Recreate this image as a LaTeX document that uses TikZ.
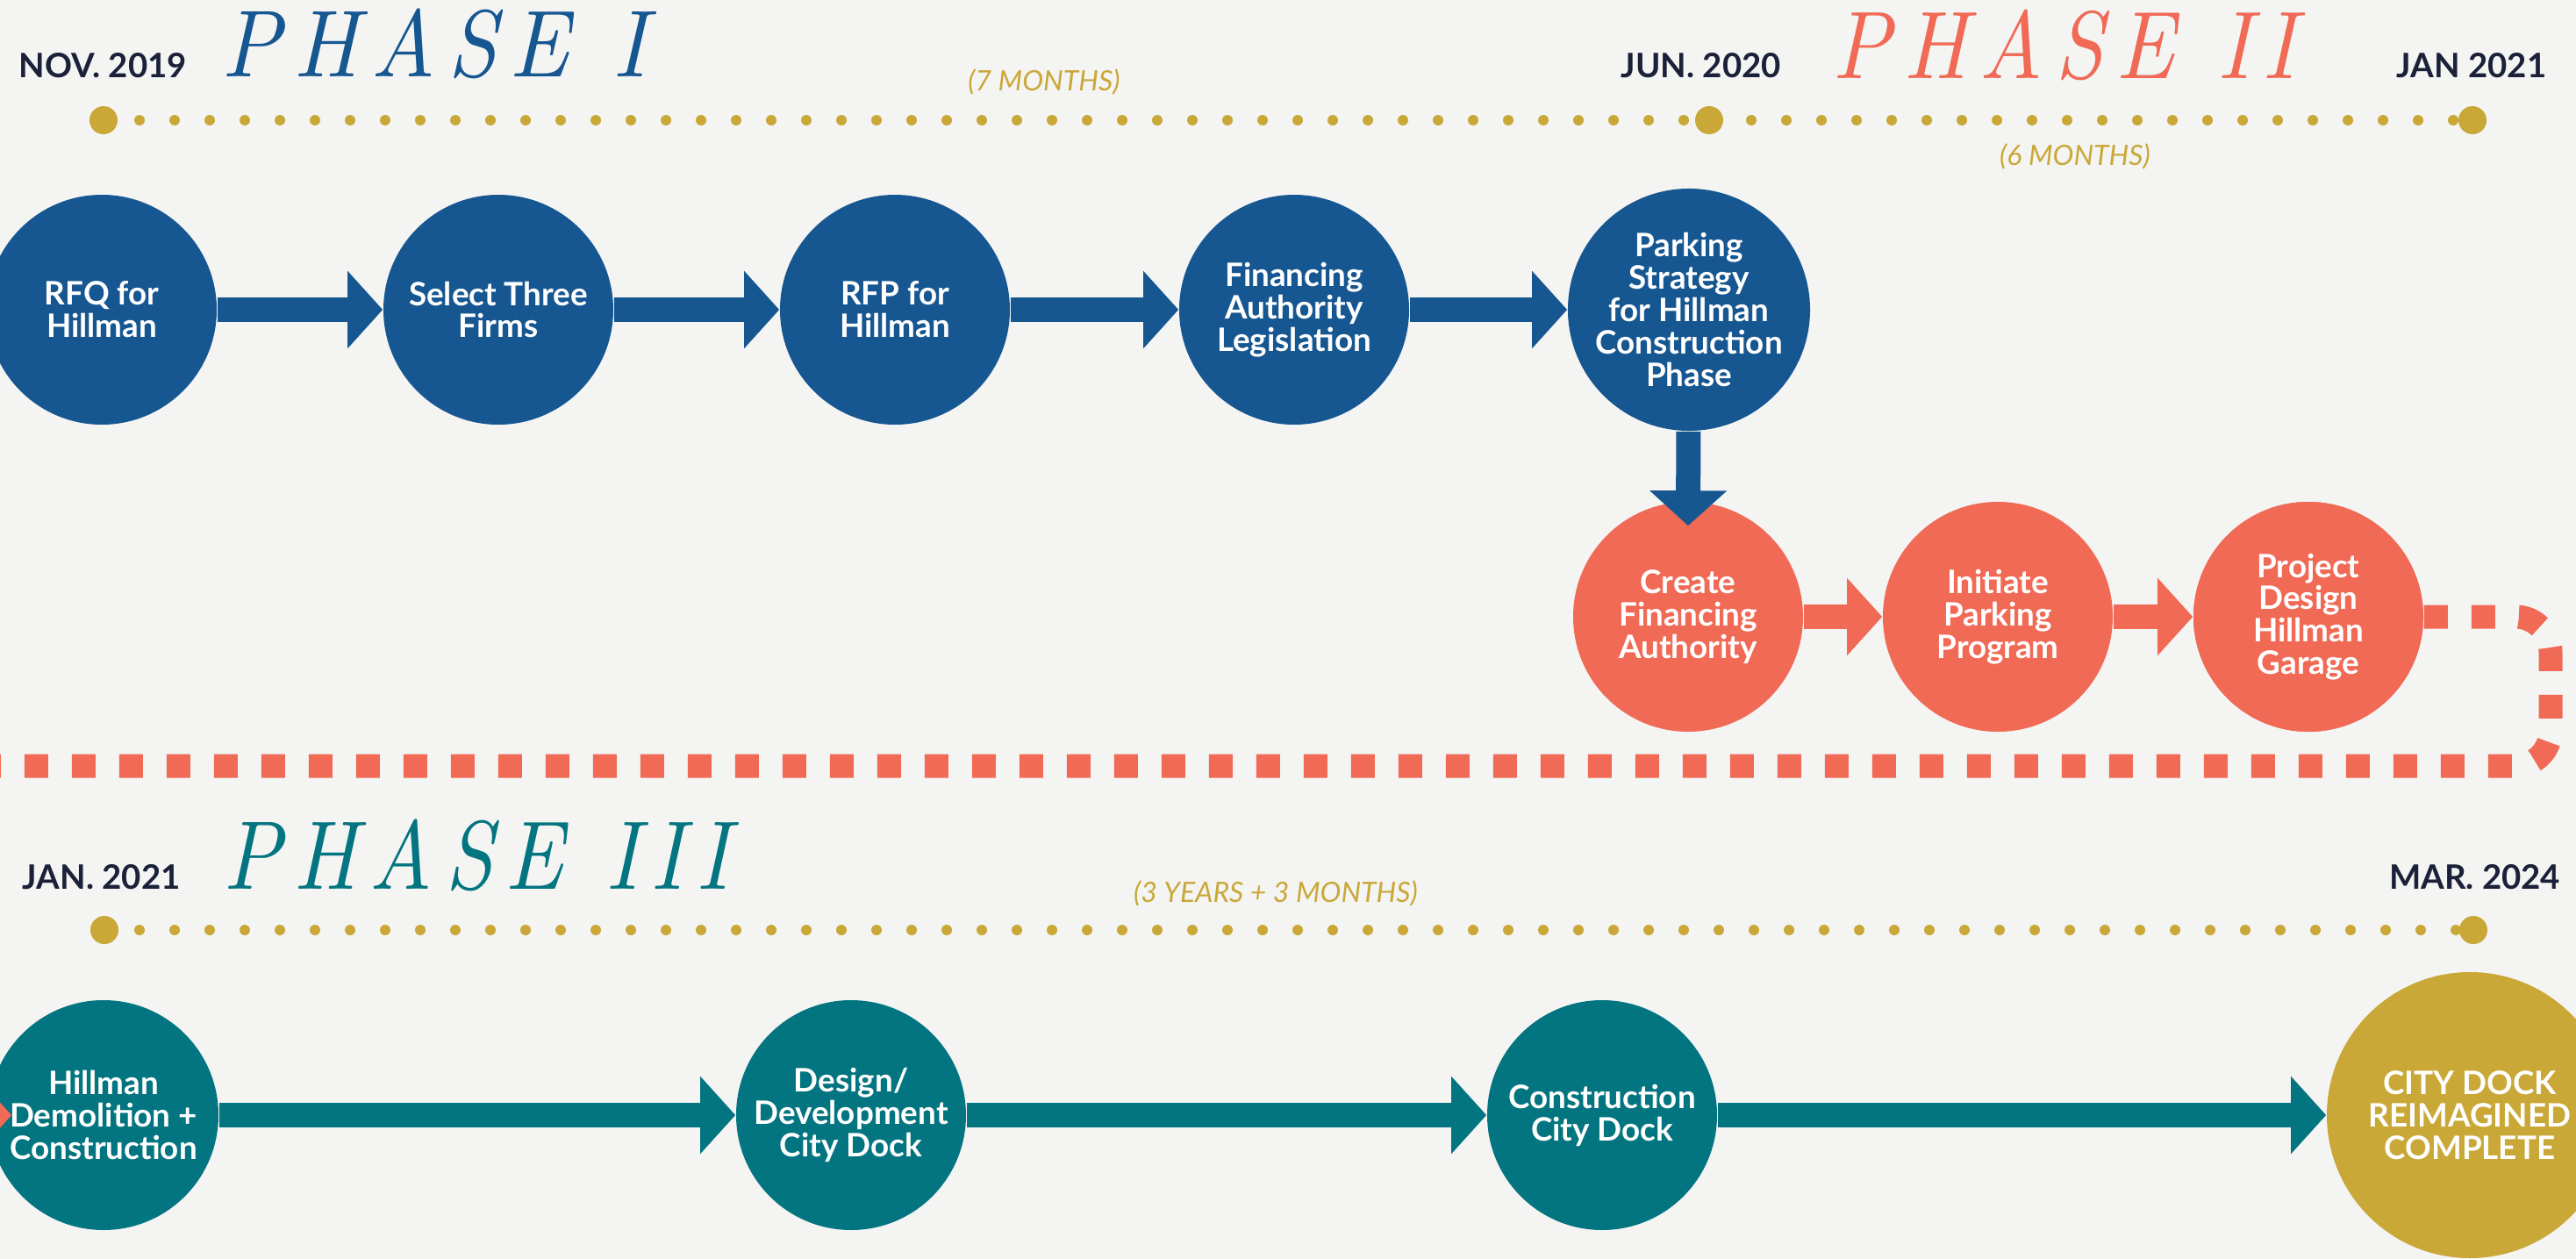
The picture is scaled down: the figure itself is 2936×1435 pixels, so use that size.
\documentclass[tikz,border=0pt]{standalone}
\usepackage{fontspec}
\newfontfamily\lato{Lato}
\newfontfamily\ttl{Latin Modern Roman}[LetterSpace=14]
\usetikzlibrary{arrows.meta,calc}
\definecolor{cblue}{RGB}{23,87,145}
\definecolor{corange}{RGB}{240,106,85}
\definecolor{cteal}{RGB}{3,117,128}
\definecolor{cgold}{RGB}{201,168,56}
\definecolor{cnavy}{RGB}{26,33,56}
\definecolor{cbg}{RGB}{244,244,243}
\begin{document}
\begin{tikzpicture}[x=0.25pt,y=-0.25pt,
  stepcircle/.style={circle, minimum size=65.5pt, inner sep=0pt, text=white, align=center,
    font={\lato\bfseries\fontsize{9.2pt}{9.2pt}\selectfont}},
  flowarrow/.style={line width=7pt, -{Triangle[length=10pt,width=21.5pt]}},
  datelabel/.style={inner sep=0pt, text=cnavy, font={\lato\bfseries\fontsize{9.6pt}{11pt}\selectfont}},
  durlabel/.style={inner sep=0pt, text=cgold, font={\lato\itshape\fontsize{8pt}{10pt}\selectfont}},
  phasetitle/.style={inner sep=0pt, anchor=base west},
  bigdot/.style={circle, fill=cgold, minimum size=8pt, inner sep=0pt},
  smalldot/.style={cgold},
  dashline/.style={draw=corange, line width=6.75pt, dash pattern=on 6.75pt off 6.75pt, rounded corners=10pt}
]
\useasboundingbox (0,0) rectangle (2936,1435);
\fill[cbg] (0,0) rectangle (2936,1435);

% ---------- timelines ----------
\foreach \x in {159,199,...,1919} \fill[smalldot] (\x,137) circle[radius=1.5pt];
\foreach \x in {1996,2036,...,2796} \fill[smalldot] (\x,137) circle[radius=1.5pt];
\foreach \x in {159,199,...,2799} \fill[smalldot] (\x,1060) circle[radius=1.5pt];
\node[bigdot] (d1) at (118,137) {};
\node[bigdot] (d2) at (1948,137) {};
\node[bigdot] (d3) at (2818,137) {};
\node[bigdot] (d4) at (119,1060) {};
\node[bigdot] (d5) at (2819,1060) {};

% ---------- labels ----------
\node[datelabel, anchor=base west] (nov) at (21,88) {NOV. 2019};
\node[datelabel, anchor=base west] (jun) at (1847,88) {JUN. 2020};
\node[datelabel, anchor=base east] (jan1) at (2903,88) {JAN 2021};
\node[datelabel, anchor=base west] (jan2) at (25,1013) {JAN. 2021};
\node[datelabel, anchor=base east] (mar) at (2919,1013) {MAR. 2024};

\node[phasetitle, text=cblue] (p1) at (252,88) {\resizebox{121pt}{19.4pt}{\ttl\itshape PHASE I}};
\node[phasetitle, text=corange] (p2) at (2088,89) {\resizebox{132pt}{19.6pt}{\ttl\itshape PHASE II}};
\node[phasetitle, text=cteal] (p3) at (254,1013) {\resizebox{144pt}{19.9pt}{\ttl\itshape PHASE III}};

\node[durlabel] (m7) at (1190,93) {(7 MONTHS)};
\node[durlabel] (m6) at (2365,178) {(6 MONTHS)};
\node[durlabel] (m39) at (1454,1018) {(3 YEARS + 3 MONTHS)};

% ---------- dashed connector (behind) ----------
\node[stepcircle, fill=corange] (pd) at (2631,703) {Project\\Design\\Hillman\\Garage};
\draw[dashline] (pd.east) -- (2907,703) -- (2907,873) -- (-40,873);

% ---------- phase I ----------
\node[stepcircle, fill=cblue] (rfq) at (116,353) {RFQ for\\Hillman};
\node[stepcircle, fill=cblue] (sel) at (568,353) {Select Three\\Firms};
\node[stepcircle, fill=cblue] (rfp) at (1020,353) {RFP for\\Hillman};
\node[stepcircle, fill=cblue] (fal) at (1475,353) {Financing\\Authority\\Legislation};
\node[stepcircle, fill=cblue] (ps) at (1925,353) {Parking\\Strategy\\for Hillman\\Construction\\Phase};

% ---------- phase II ----------
\node[stepcircle, fill=corange] (cfa) at (1924,703) {Create\\Financing\\Authority};
\node[stepcircle, fill=corange] (ipp) at (2277,703) {Initiate\\Parking\\Program};
\node[stepcircle, fill=corange] (pd2) at (2631,703) {Project\\Design\\Hillman\\Garage};

% ---------- phase III ----------
\node[stepcircle, fill=cteal] (hdc) at (118,1271) {Hillman\\Demolition +\\Construction};
\node[stepcircle, fill=cteal] (ddc) at (970,1271) {Design/\\Development\\City Dock};
\node[stepcircle, fill=cteal] (ccd) at (1826,1271) {Construction\\City Dock};
\node[stepcircle, fill=cgold, minimum size=81.5pt] (cdr) at (2815,1271) {CITY DOCK\\REIMAGINED\\COMPLETE};

% ---------- connectors ----------
\draw[flowarrow, cblue] (rfq) -- (sel);
\draw[flowarrow, cblue] (sel) -- (rfp);
\draw[flowarrow, cblue] (rfp) -- (fal);
\draw[flowarrow, cblue] (fal) -- (ps);
\draw[flowarrow, cblue] (ps) -- ([yshift=-7pt]cfa.north);
\draw[flowarrow, corange] (cfa) -- (ipp);
\draw[flowarrow, corange] (ipp) -- (pd2);
\coordinate (inleft) at (-200,1271);
\draw[flowarrow, corange] (inleft) -- ([xshift=6.75pt]hdc.west);
\draw[flowarrow, cteal] (hdc) -- (ddc);
\draw[flowarrow, cteal] (ddc) -- (ccd);
\draw[flowarrow, cteal] (ccd) -- (cdr);
\end{tikzpicture}
\end{document}
